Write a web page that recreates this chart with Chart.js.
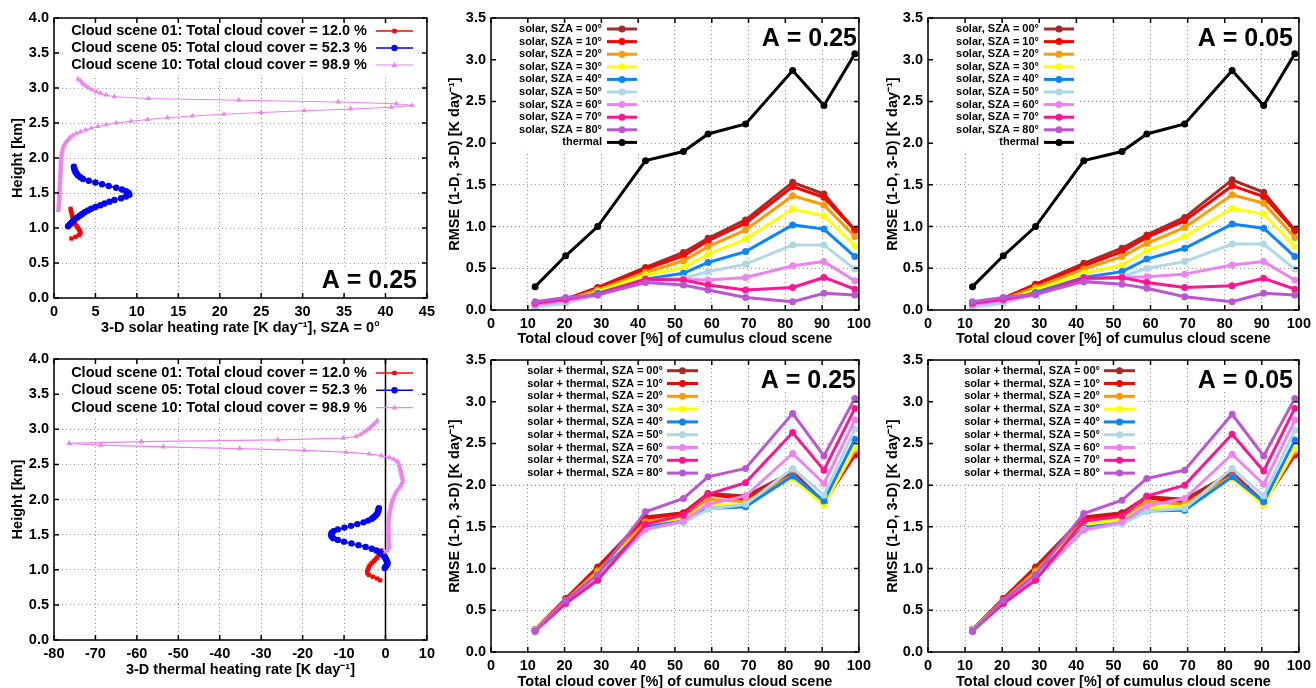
<!DOCTYPE html>
<html>
<head>
<meta charset="utf-8">
<script src="https://cdn.jsdelivr.net/npm/chart.js@4.4.1/dist/chart.umd.min.js"></script>
<style>
  html, body { margin: 0; padding: 0; background: #fff; }
  #wrap { position: relative; width: 1316px; height: 688px; overflow: hidden; }
  canvas { position: absolute; }
</style>
</head>
<body>
<div id="wrap">
  <canvas id="c1" width="440" height="344" style="left:0px;top:0px"></canvas>
  <canvas id="c2" width="436" height="350" style="left:440px;top:0px"></canvas>
  <canvas id="c3" width="440" height="350" style="left:876px;top:0px"></canvas>
  <canvas id="c4" width="440" height="344" style="left:0px;top:344px"></canvas>
  <canvas id="c5" width="436" height="344" style="left:440px;top:344px"></canvas>
  <canvas id="c6" width="440" height="344" style="left:876px;top:344px"></canvas>
</div>
<script>
// ---- profile data (height in km, heating rate in K/day) ----
var heights10 = [3.125, 3.100, 3.075, 3.050, 3.025, 3.000, 2.975, 2.950, 2.925, 2.900,
  2.875, 2.850, 2.825, 2.800, 2.775, 2.750, 2.725, 2.700, 2.675, 2.650,
  2.625, 2.600, 2.575, 2.550, 2.525, 2.500, 2.475, 2.450, 2.425, 2.400,
  2.375, 2.350, 2.325, 2.300, 2.275, 2.250, 2.225, 2.200, 2.175, 2.150,
  2.125, 2.100, 2.075, 2.050, 2.025, 2.000, 1.975, 1.950, 1.925, 1.900,
  1.875, 1.850, 1.825, 1.800, 1.775, 1.750, 1.725, 1.700, 1.675, 1.650,
  1.625, 1.600, 1.575, 1.550, 1.525, 1.500, 1.475, 1.450, 1.425, 1.400,
  1.375, 1.350, 1.325, 1.300, 1.275, 1.250];
var heights05 = [1.875, 1.850, 1.825, 1.800, 1.775, 1.750, 1.725, 1.700, 1.675, 1.650,
  1.625, 1.600, 1.575, 1.550, 1.525, 1.500, 1.475, 1.450, 1.425, 1.400,
  1.375, 1.350, 1.325, 1.300, 1.275, 1.250, 1.225, 1.200, 1.175, 1.150,
  1.125, 1.100, 1.075, 1.050, 1.025];
var heights01 = [1.275, 1.250, 1.225, 1.200, 1.175, 1.150, 1.125, 1.100, 1.075, 1.050,
  1.025, 1.000, 0.975, 0.950, 0.925, 0.900, 0.875, 0.850];

var solar10 = [2.9, 3.2, 3.4, 3.6, 3.9, 4.2, 4.6, 5.1, 5.6, 6.3,
  7.3, 11.4, 22.3, 34.3, 41.3, 43.2, 40.7, 35.8, 30.2, 25.0,
  20.5, 16.7, 13.7, 11.3, 9.3, 7.5, 6.3, 5.3, 4.5, 3.8,
  3.2, 2.7, 2.3, 2.0, 1.8, 1.6, 1.45, 1.3, 1.2, 1.1,
  1.05, 1.0, 0.95, 0.92, 0.9, 0.88, 0.86, 0.85, 0.84, 0.83,
  0.82, 0.8, 0.79, 0.78, 0.77, 0.76, 0.75, 0.74, 0.73, 0.72,
  0.71, 0.7, 0.69, 0.68, 0.67, 0.66, 0.65, 0.64, 0.63, 0.62,
  0.61, 0.6, 0.58, 0.57, 0.55, 0.53];
var solar05 = [2.4, 2.45, 2.5, 2.6, 2.75, 2.9, 3.2, 3.5, 4.2, 5.0,
  5.8, 6.6, 7.5, 8.2, 8.7, 9.0, 9.1, 8.7, 8.1, 7.3,
  6.7, 6.1, 5.6, 5.0, 4.5, 4.1, 3.7, 3.4, 3.1, 2.8,
  2.5, 2.3, 2.1, 1.9, 1.7];
var solar01 = [2.0, 2.05, 2.1, 2.15, 2.2, 2.25, 2.3, 2.4, 2.5, 2.6,
  2.75, 2.9, 3.05, 3.15, 3.2, 3.0, 2.6, 2.1];

var thermal10 = [-2.0, -2.3, -2.8, -3.2, -3.7, -4.2, -4.7, -5.3, -6.0, -7.0,
  -10.2, -26.0, -58.9, -76.3, -68.7, -53.6, -35.2, -19.6, -9.5, -3.9,
  -1.0, 1.0, 2.0, 2.7, 3.1, 3.3, 3.4, 3.5, 3.6, 3.7,
  3.8, 3.9, 4.0, 4.1, 4.2, 4.1, 3.9, 3.7, 3.4, 3.1,
  2.8, 2.5, 2.3, 2.1, 1.9, 1.7, 1.6, 1.5, 1.4, 1.3,
  1.2, 1.1, 1.0, 0.95, 0.9, 0.85, 0.8, 0.75, 0.72, 0.7,
  0.7, 0.7, 0.7, 0.7, 0.7, 0.72, 0.74, 0.76, 0.78, 0.8,
  0.85, 0.9, 0.9, 0.7, 0.4, 0.0];
var thermal05 = [-1.6, -1.7, -1.8, -2.0, -2.3, -2.8, -3.3, -4.2, -5.3, -6.8,
  -8.3, -9.9, -11.5, -12.5, -13.0, -13.1, -13.0, -12.6, -11.5, -10.0,
  -8.2, -6.5, -4.8, -3.3, -2.2, -1.4, -0.8, -0.4, -0.1, 0.1,
  0.3, 0.5, 0.4, 0.1, -0.2];
var thermal01 = [-1.0, -1.2, -1.4, -1.7, -2.0, -2.4, -2.8, -3.2, -3.6, -3.9,
  -4.1, -4.3, -4.4, -4.4, -4.0, -3.0, -2.0, -1.3];

var sceneLabels = ['Cloud scene 01: Total cloud cover = 12.0 %',
  'Cloud scene 05: Total cloud cover = 52.3 %',
  'Cloud scene 10: Total cloud cover = 98.9 %'];

// ---- RMSE data ----
var cover = [12.0, 20.3, 29.0, 42.0, 52.3, 59.0, 69.2, 82.0, 90.5, 98.9];
var szaNames = ['00', '10', '20', '30', '40', '50', '60', '70', '80'];

var solarA25 = [
  [0.08, 0.13, 0.27, 0.51, 0.69, 0.86, 1.08, 1.53, 1.39, 0.96],
  [0.08, 0.13, 0.26, 0.49, 0.65, 0.83, 1.04, 1.48, 1.35, 0.96],
  [0.07, 0.12, 0.24, 0.45, 0.59, 0.76, 0.96, 1.37, 1.26, 0.88],
  [0.06, 0.11, 0.22, 0.42, 0.51, 0.67, 0.85, 1.21, 1.13, 0.77],
  [0.05, 0.10, 0.20, 0.37, 0.44, 0.57, 0.70, 1.02, 0.97, 0.64],
  [0.03, 0.08, 0.18, 0.36, 0.38, 0.46, 0.55, 0.78, 0.78, 0.49],
  [0.06, 0.11, 0.18, 0.36, 0.37, 0.36, 0.39, 0.53, 0.58, 0.35],
  [0.08, 0.13, 0.19, 0.37, 0.36, 0.30, 0.24, 0.27, 0.39, 0.25],
  [0.10, 0.15, 0.18, 0.33, 0.30, 0.24, 0.15, 0.10, 0.20, 0.18]
];
var solarA05 = [
  [0.08, 0.14, 0.31, 0.56, 0.74, 0.90, 1.11, 1.56, 1.41, 0.96],
  [0.08, 0.14, 0.30, 0.53, 0.70, 0.87, 1.07, 1.49, 1.36, 0.95],
  [0.07, 0.13, 0.27, 0.49, 0.64, 0.80, 0.99, 1.38, 1.28, 0.87],
  [0.06, 0.11, 0.24, 0.44, 0.54, 0.71, 0.88, 1.22, 1.15, 0.76],
  [0.05, 0.10, 0.21, 0.39, 0.46, 0.61, 0.74, 1.03, 0.98, 0.64],
  [0.03, 0.08, 0.19, 0.37, 0.40, 0.50, 0.58, 0.79, 0.79, 0.49],
  [0.06, 0.11, 0.18, 0.37, 0.39, 0.40, 0.43, 0.54, 0.58, 0.36],
  [0.08, 0.13, 0.19, 0.38, 0.39, 0.33, 0.27, 0.29, 0.38, 0.25],
  [0.10, 0.15, 0.19, 0.34, 0.31, 0.26, 0.16, 0.10, 0.20, 0.18]
];
var thermalRmse = [0.28, 0.65, 1.00, 1.79, 1.90, 2.11, 2.23, 2.87, 2.45, 3.07];

var totalA25 = [
  [0.27, 0.64, 1.02, 1.62, 1.67, 1.90, 1.87, 2.16, 1.80, 2.38],
  [0.27, 0.63, 1.00, 1.60, 1.66, 1.89, 1.83, 2.13, 1.79, 2.36],
  [0.27, 0.62, 0.97, 1.56, 1.63, 1.83, 1.80, 2.12, 1.78, 2.42],
  [0.26, 0.61, 0.94, 1.52, 1.60, 1.76, 1.77, 2.08, 1.76, 2.45],
  [0.26, 0.60, 0.92, 1.50, 1.57, 1.72, 1.74, 2.11, 1.81, 2.55],
  [0.26, 0.60, 0.90, 1.47, 1.55, 1.71, 1.77, 2.20, 1.88, 2.67],
  [0.26, 0.59, 0.88, 1.47, 1.57, 1.77, 1.87, 2.38, 2.02, 2.78],
  [0.25, 0.58, 0.86, 1.53, 1.64, 1.89, 2.03, 2.63, 2.18, 2.92],
  [0.25, 0.62, 0.93, 1.68, 1.84, 2.10, 2.20, 2.86, 2.35, 3.04]
];
var totalA05 = [
  [0.27, 0.64, 1.02, 1.62, 1.67, 1.86, 1.83, 2.15, 1.80, 2.38],
  [0.27, 0.63, 1.00, 1.60, 1.65, 1.85, 1.79, 2.12, 1.79, 2.36],
  [0.27, 0.62, 0.97, 1.57, 1.62, 1.80, 1.77, 2.11, 1.78, 2.41],
  [0.26, 0.61, 0.94, 1.53, 1.59, 1.73, 1.74, 2.08, 1.76, 2.44],
  [0.26, 0.60, 0.92, 1.49, 1.55, 1.69, 1.70, 2.10, 1.80, 2.54],
  [0.26, 0.60, 0.90, 1.47, 1.53, 1.69, 1.72, 2.20, 1.87, 2.66],
  [0.26, 0.59, 0.88, 1.46, 1.56, 1.75, 1.84, 2.37, 2.01, 2.78],
  [0.25, 0.58, 0.86, 1.57, 1.63, 1.87, 2.00, 2.61, 2.17, 2.92],
  [0.25, 0.62, 0.93, 1.66, 1.82, 2.08, 2.18, 2.85, 2.35, 3.04]
];

var szaColors = ['#a52a2a', '#ff0000', '#ff9a00', '#ffff00', '#0a84ff',
  '#add8e6', '#ee82ee', '#ff1493', '#ba55d3'];
var sceneColors = ['#ff0000', '#0000ff', '#ee82ee'];
var sceneMarks = ['rect', 'circle', 'triangle'];

var FONT = '"Liberation Sans", Arial, sans-serif';
Chart.defaults.font.family = FONT;
Chart.defaults.font.weight = 'bold';
Chart.defaults.color = '#000';
Chart.defaults.animation = false;

function pairs(xs, ys) {
  return xs.map(function(x, i) { return { x: x, y: ys[i] }; });
}

function mark(ctx, style, x, y, r) {
  ctx.beginPath();
  if (style === 'rect') {
    ctx.rect(x - r * 0.72, y - r * 0.72, r * 1.44, r * 1.44);
  } else if (style === 'triangle') {
    ctx.moveTo(x, y - r);
    ctx.lineTo(x + r * 0.9, y + r * 0.6);
    ctx.lineTo(x - r * 0.9, y + r * 0.6);
    ctx.closePath();
  } else {
    ctx.arc(x, y, r, 0, Math.PI * 2);
  }
  ctx.fill();
}

// gnuplot-like decorations: opaque key, big label, frame, inward ticks
var gnuPlot = {
  id: 'gnu',
  beforeDatasetsDraw: function(chart, args, o) {
    var ctx = chart.ctx, a = chart.chartArea;
    ctx.save();
    ctx.fillStyle = '#fff';
    if (o.key) {
      var k = o.key, n = chart.data.datasets.length;
      var left = k.boxLeft != null ? k.boxLeft : a.left + 1;
      ctx.fillRect(left, a.top + 1, k.x1 + 4 - left, k.y + (n - 1) * k.dy + k.dy / 2 + 1 - a.top);
    }
    if (o.tag) {
      ctx.font = 'bold ' + o.tag.size + 'px ' + FONT;
      var w = ctx.measureText(o.tag.text).width;
      ctx.fillRect(o.tag.x - w - 3, o.tag.y - o.tag.size * 0.8, w + 6, o.tag.size * 0.95);
    }
    if (o.zero) {
      var zx = chart.scales.x.getPixelForValue(0);
      ctx.strokeStyle = '#000';
      ctx.lineWidth = 1.5;
      ctx.beginPath(); ctx.moveTo(zx, a.top); ctx.lineTo(zx, a.bottom); ctx.stroke();
    }
    ctx.restore();
  },
  afterDatasetsDraw: function(chart, args, o) {
    var ctx = chart.ctx, a = chart.chartArea;
    ctx.save();
    if (o.key) {
      var k = o.key;
      ctx.font = 'bold ' + k.size + 'px ' + FONT;
      ctx.textAlign = 'right';
      ctx.textBaseline = 'middle';
      chart.data.datasets.forEach(function(ds, i) {
        var y = k.y + i * k.dy;
        ctx.fillStyle = '#000';
        ctx.fillText(ds.label, k.textRight, y);
        ctx.strokeStyle = ds.borderColor;
        ctx.lineWidth = ds.borderWidth;
        ctx.beginPath(); ctx.moveTo(k.x0, y); ctx.lineTo(k.x1, y); ctx.stroke();
        ctx.fillStyle = ds.borderColor;
        mark(ctx, ds.pointStyle, (k.x0 + k.x1) / 2, y, ds.pointRadius);
      });
    }
    if (o.tag) {
      ctx.font = 'bold ' + o.tag.size + 'px ' + FONT;
      ctx.textAlign = 'right';
      ctx.textBaseline = 'alphabetic';
      ctx.fillStyle = '#000';
      ctx.fillText(o.tag.text, o.tag.x, o.tag.y);
    }
    ctx.strokeStyle = '#000';
    ctx.lineWidth = 1.5;
    ctx.beginPath();
    chart.scales.x.ticks.forEach(function(t) {
      var x = chart.scales.x.getPixelForValue(t.value);
      ctx.moveTo(x, a.bottom); ctx.lineTo(x, a.bottom - 5);
      ctx.moveTo(x, a.top); ctx.lineTo(x, a.top + 5);
    });
    chart.scales.y.ticks.forEach(function(t) {
      var y = chart.scales.y.getPixelForValue(t.value);
      ctx.moveTo(a.left, y); ctx.lineTo(a.left + 5, y);
      ctx.moveTo(a.right, y); ctx.lineTo(a.right - 5, y);
    });
    ctx.stroke();
    ctx.strokeRect(a.left, a.top, a.right - a.left, a.bottom - a.top);
    ctx.restore();
  }
};

function axis(min, max, step, digits, width, height, title, titlePad) {
  var s = {
    type: 'linear', min: min, max: max,
    grid: { color: '#9a9a9a', lineWidth: 1, drawTicks: false },
    border: { display: false, dash: [1, 3] },
    ticks: {
      stepSize: step, autoSkip: false, maxRotation: 0, padding: 5,
      font: { size: 14.5, weight: 'bold' }, color: '#000',
      callback: function(v) { return digits ? v.toFixed(digits) : String(v); }
    },
    title: { display: true, text: title, font: { size: 14.5, weight: 'bold' }, color: '#000', padding: titlePad }
  };
  if (width) s.afterFit = function(sc) { sc.width = width; };
  if (height) s.afterFit = function(sc) { sc.height = height; };
  return s;
}

function makeChart(id, datasets, p) {
  return new Chart(document.getElementById(id), {
    type: 'scatter',
    data: { datasets: datasets },
    options: {
      responsive: false,
      events: [],
      layout: { autoPadding: false, padding: { top: p.top, right: p.right, left: 0, bottom: 0 } },
      scales: {
        x: axis(p.xmin, p.xmax, p.xstep, 0, null, p.xH, p.xTitle, { top: 0, bottom: p.xPad }),
        y: axis(p.ymin, p.ymax, 0.5, 1, p.yW, null, p.yTitle, { top: p.yPad, bottom: 0 })
      },
      plugins: {
        legend: { display: false },
        tooltip: { enabled: false },
        gnu: { key: p.key, tag: p.tag, zero: p.zero }
      }
    },
    plugins: [gnuPlot]
  });
}

function profileSets(xs10, xs05, xs01) {
  var xs = [xs01, xs05, xs10], hs = [heights01, heights05, heights10];
  return xs.map(function(x, i) {
    return {
      label: sceneLabels[i],
      data: pairs(x, hs[i]),
      showLine: true,
      borderColor: sceneColors[i], backgroundColor: sceneColors[i],
      borderWidth: i === 2 ? 1.2 : 1.5,
      pointStyle: sceneMarks[i], pointRadius: i === 0 ? 3 : 3.2,
      pointBorderWidth: 0,
      order: 3 - i
    };
  });
}

function rmseSets(rows, prefix, withThermal) {
  var sets = rows.map(function(r, i) {
    return {
      label: prefix + 'SZA = ' + szaNames[i] + '°',
      data: pairs(cover, r),
      showLine: true,
      borderColor: szaColors[i], backgroundColor: szaColors[i],
      borderWidth: 3, pointStyle: 'circle', pointRadius: 3.5, pointBorderWidth: 0,
      order: 20 - i
    };
  });
  if (withThermal) {
    sets.push({
      label: 'thermal', data: pairs(cover, thermalRmse), showLine: true,
      borderColor: '#000', backgroundColor: '#000',
      borderWidth: 3, pointStyle: 'circle', pointRadius: 3.5, pointBorderWidth: 0, order: 0
    });
  }
  return sets;
}

var rmseTitle = 'RMSE (1-D, 3-D) [K day⁻¹]';
var coverTitle = 'Total cloud cover [%] of cumulus cloud scene';

makeChart('c1', profileSets(solar10, solar05, solar01), {
  top: 18, right: 12, yW: 54, xH: 46, xPad: 7, yPad: 9,
  xmin: 0, xmax: 45, xstep: 5, ymin: 0, ymax: 4,
  xTitle: '3-D solar heating rate [K day⁻¹], SZA = 0°', yTitle: 'Height [km]',
  key: { size: 14.5, textRight: 367, x0: 376, x1: 413, y: 31, dy: 17, boxLeft: 64 },
  tag: { text: 'A = 0.25', size: 25, x: 417, y: 288 }
});

makeChart('c2', rmseSets(solarA25, 'solar, ', true), {
  top: 18, right: 11, yW: 51, xH: 40, xPad: 2, yPad: 6,
  xmin: 0, xmax: 100, xstep: 10, ymin: 0, ymax: 3.5,
  xTitle: coverTitle, yTitle: rmseTitle,
  key: { size: 11, textRight: 162, x0: 167, x1: 197, y: 29, dy: 12.6 },
  tag: { text: 'A = 0.25', size: 25, x: 417, y: 46 }
});

makeChart('c3', rmseSets(solarA05, 'solar, ', true), {
  top: 18, right: 14, yW: 52, xH: 40, xPad: 2, yPad: 8,
  xmin: 0, xmax: 100, xstep: 10, ymin: 0, ymax: 3.5,
  xTitle: coverTitle, yTitle: rmseTitle,
  key: { size: 11, textRight: 163, x0: 168, x1: 198, y: 29, dy: 12.6 },
  tag: { text: 'A = 0.05', size: 25, x: 417, y: 46 }
});

makeChart('c4', profileSets(thermal10, thermal05, thermal01), {
  top: 15, right: 12, yW: 54, xH: 48, xPad: 9, yPad: 9,
  xmin: -80, xmax: 10, xstep: 10, ymin: 0, ymax: 4,
  xTitle: '3-D thermal heating rate [K day⁻¹]', yTitle: 'Height [km]',
  key: { size: 14.5, textRight: 367, x0: 376, x1: 413, y: 29, dy: 17.3, boxLeft: 64 },
  zero: true
});

makeChart('c5', rmseSets(totalA25, 'solar + thermal, ', false), {
  top: 16, right: 11, yW: 51, xH: 36, xPad: -3, yPad: 6,
  xmin: 0, xmax: 100, xstep: 10, ymin: 0, ymax: 3.5,
  xTitle: coverTitle, yTitle: rmseTitle,
  key: { size: 11, textRight: 223, x0: 227, x1: 258, y: 26.7, dy: 12.8 },
  tag: { text: 'A = 0.25', size: 25, x: 416, y: 44 }
});

makeChart('c6', rmseSets(totalA05, 'solar + thermal, ', false), {
  top: 16, right: 14, yW: 52, xH: 36, xPad: -3, yPad: 8,
  xmin: 0, xmax: 100, xstep: 10, ymin: 0, ymax: 3.5,
  xTitle: coverTitle, yTitle: rmseTitle,
  key: { size: 11, textRight: 224, x0: 228, x1: 259, y: 26.7, dy: 12.8 },
  tag: { text: 'A = 0.05', size: 25, x: 417, y: 44 }
});
</script>
</body>
</html>
